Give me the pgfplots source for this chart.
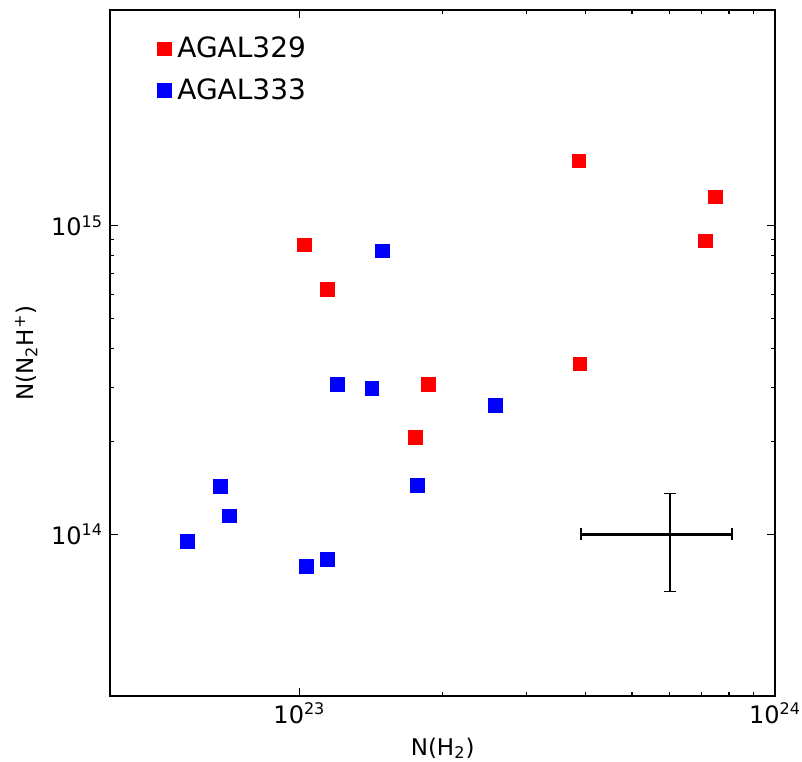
\documentclass[border=0pt]{standalone}
\usepackage{pgfplots}
\pgfplotsset{compat=1.18}
\usepackage{fontspec}
\setmainfont{DejaVu Sans}
\usetikzlibrary{calc}
\begin{document}
\begin{tikzpicture}
\begin{axis}[
  name=ax,
  scale only axis,
  width=332.5pt, height=343pt,
  xmode=log, ymode=log,
  xmin=4.0e22, xmax=1e24,
  ymin=3.0e13, ymax=5e15,
  axis line style={line width=0.9pt},
  tick align=inside,
  major tick length=4pt, minor tick length=2pt,
  every tick/.style={black, line width=0.6pt},
  xtick={1e23,1e24}, xticklabels={10\textsuperscript{23},10\textsuperscript{24}},
  ytick={1e14,1e15}, yticklabels={10\textsuperscript{14},10\textsuperscript{15}},
  tick label style={font=\fontsize{12}{14}\selectfont},
  label style={font=\fontsize{11.5}{13}\selectfont},
  xlabel={N(H\textsubscript{2})},
  ylabel={N(N\textsubscript{2}H\textsuperscript{+})},
  legend style={at={(0.065,0.973)}, anchor=north west, draw=none, fill=none,
    font=\fontsize{14}{16}\selectfont, row sep=5pt, column sep=1pt, inner sep=2pt},
  legend cell align=left,
]
\addplot[only marks, mark=square*, mark size=3.4pt, draw=red, fill=red] coordinates {
(1.025e23, 8.68e14)
(1.145e23, 6.21e14)
(3.87e23, 1.62e15)
(7.48e23, 1.24e15)
(7.13e23, 8.94e14)
(3.89e23, 3.57e14)
(1.866e23, 3.06e14)
(1.753e23, 2.06e14)
};
\addlegendentry{AGAL329}
\addplot[only marks, mark=square*, mark size=3.4pt, draw=blue, fill=blue] coordinates {
(1.494e23, 8.30e14)
(1.20e23, 3.06e14)
(1.42e23, 2.97e14)
(2.58e23, 2.62e14)
(1.77e23, 1.44e14)
(6.82e22, 1.43e14)
(7.13e22, 1.15e14)
(5.82e22, 9.49e13)
(1.034e23, 7.87e13)
(1.145e23, 8.30e13)
};
\addlegendentry{AGAL333}
\addplot[black, line width=1.3pt, mark=|, mark size=3pt, mark options={line width=0.9pt}, forget plot] coordinates {(3.91e23,1e14) (8.13e23,1e14)};
\addplot[black, line width=1.3pt, mark=-, mark size=3pt, mark options={line width=0.9pt}, forget plot] coordinates {(6.01e23,1.357e14) (6.01e23,6.54e13)};
\end{axis}
\pgfresetboundingbox
\path ($(ax.south west)+(-55pt,-33pt)$) rectangle ($(ax.north east)+(13.5pt,5pt)$);
\end{tikzpicture}
\end{document}
